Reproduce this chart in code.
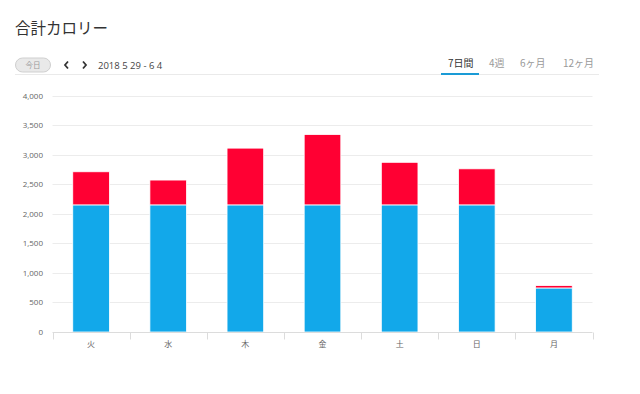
<!DOCTYPE html>
<html>
<head>
<meta charset="utf-8">
<script src="https://cdn.jsdelivr.net/npm/d3@7"></script>
<style>
  body { margin: 0; background: #fff; }
  svg { font-family: "Open Sans", "Noto Sans CJK JP", sans-serif; }
</style>
</head>
<body>
<div id="chart"></div>
<script>
const days = ["火", "水", "木", "金", "土", "日", "月"];
const baseValues = [2150, 2150, 2150, 2150, 2150, 2150, 745];
const extraValues = [560, 420, 960, 1190, 720, 610, 40];
const yTicks = [0, 500, 1000, 1500, 2000, 2500, 3000, 3500, 4000];
const tabs = ["7日間", "4週", "6ヶ月", "12ヶ月"];
const tabX = [448, 489, 520, 563];

const WIDTH = 640;
const HEIGHT = 394;
const MARGIN = { TOP: 95.5, RIGHT: 47.5, BOTTOM: 62, LEFT: 52.5 };

const colors = ["#12a8ea", "#ff0033"];

const svg = d3
  .select("#chart")
  .append("svg")
  .attr("width", WIDTH)
  .attr("height", HEIGHT);

// header
svg.append("text")
  .attr("x", 15)
  .attr("y", 34)
  .attr("font-size", 15.5)
  .attr("fill", "#333")
  .style("font-family", "'Noto Sans CJK JP', sans-serif")
  .text("合計カロリー");

svg.append("rect")
  .attr("x", 15.5).attr("y", 58).attr("width", 35).attr("height", 14).attr("rx", 7)
  .attr("fill", "#e9e9e9").attr("stroke", "#cfcfcf");
svg.append("text")
  .attr("x", 33).attr("y", 68)
  .attr("text-anchor", "middle")
  .attr("font-size", 7.5)
  .attr("fill", "#999")
  .style("font-family", "'Noto Sans CJK JP', sans-serif")
  .text("今日");

// chevrons
svg.append("path")
  .attr("d", "M68,61.5 L65,65 L68,68.5")
  .attr("fill", "none").attr("stroke", "#333").attr("stroke-width", 1.8);
svg.append("path")
  .attr("d", "M83,61.5 L86,65 L83,68.5")
  .attr("fill", "none").attr("stroke", "#333").attr("stroke-width", 1.8);

svg.append("text")
  .attr("x", 98).attr("y", 69)
  .attr("font-size", 9.5)
  .attr("fill", "#444")
  .text("2018 5 29 - 6 4");

svg.append("line")
  .attr("x1", 15).attr("x2", 599).attr("y1", 74.5).attr("y2", 74.5)
  .attr("stroke", "#eaeaea");

svg.selectAll(".tab")
  .data(tabs)
  .join("text")
  .attr("class", "tab")
  .attr("x", (d, i) => tabX[i])
  .attr("y", 67)
  .attr("font-size", 10)
  .attr("fill", (d, i) => (i === 0 ? "#333" : "#999"))
  .style("font-family", "'Noto Sans CJK JP', sans-serif")
  .text((d) => d);

svg.append("line")
  .attr("x1", 441).attr("x2", 479).attr("y1", 74).attr("y2", 74)
  .attr("stroke", "#1a9bd6").attr("stroke-width", 2);

// chart
const g = svg.append("g");

const x = d3
  .scaleBand()
  .domain(days)
  .range([MARGIN.LEFT, WIDTH - MARGIN.RIGHT])
  .paddingInner(0.525)
  .paddingOuter(0.2625);

const y = d3
  .scaleLinear()
  .domain([0, 4000])
  .range([HEIGHT - MARGIN.BOTTOM, MARGIN.TOP]);

// gridlines
g.selectAll(".grid")
  .data(yTicks.slice(1))
  .join("line")
  .attr("x1", MARGIN.LEFT)
  .attr("x2", WIDTH - MARGIN.RIGHT)
  .attr("y1", (d) => Math.round(y(d)) + 0.5)
  .attr("y2", (d) => Math.round(y(d)) + 0.5)
  .attr("stroke", "#ececec");

// y labels
g.selectAll(".ylab")
  .data(yTicks)
  .join("text")
  .attr("x", 43)
  .attr("y", (d) => y(d) + 3)
  .attr("text-anchor", "end")
  .attr("font-size", 8)
  .attr("fill", "#666")
  .text((d) => d3.format(",")(d));

// stacked bars
const stackData = days.map((d, i) => ({ day: d, base: baseValues[i], extra: extraValues[i] }));
const series = d3.stack().keys(["base", "extra"])(stackData);

g.selectAll(".series")
  .data(series)
  .join("g")
  .attr("fill", (d, i) => colors[i])
  .selectAll("rect")
  .data((d) => d)
  .join("rect")
  .attr("x", (d) => x(d.data.day))
  .attr("width", x.bandwidth())
  .attr("y", (d) => y(d[1]))
  .attr("height", (d) => y(d[0]) - y(d[1]))
  .attr("stroke", "#fff")
  .attr("stroke-width", 0.8);

// x axis
const axisY = HEIGHT - MARGIN.BOTTOM + 0.5;
g.append("line")
  .attr("x1", MARGIN.LEFT).attr("x2", WIDTH - MARGIN.RIGHT)
  .attr("y1", axisY).attr("y2", axisY)
  .attr("stroke", "#dcdcdc");

const step = x.step();
const bounds = days.map((d) => x(d) - (step * x.paddingInner()) / 2);
bounds.push(WIDTH - MARGIN.RIGHT);
g.selectAll(".tick")
  .data(bounds)
  .join("line")
  .attr("x1", (d) => Math.round(d) + 0.5)
  .attr("x2", (d) => Math.round(d) + 0.5)
  .attr("y1", axisY)
  .attr("y2", axisY + 7)
  .attr("stroke", "#dcdcdc");

g.selectAll(".xlab")
  .data(days)
  .join("text")
  .attr("x", (d) => x(d) + x.bandwidth() / 2)
  .attr("y", axisY + 14)
  .attr("text-anchor", "middle")
  .attr("font-size", 8)
  .attr("fill", "#666")
  .style("font-family", "'Noto Sans CJK JP', sans-serif")
  .text((d) => d);
</script>
</body>
</html>
